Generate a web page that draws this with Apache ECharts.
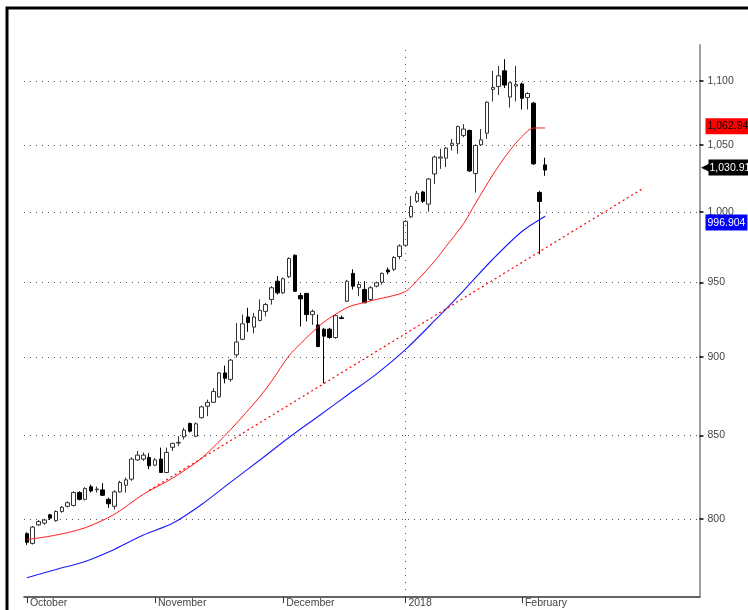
<!DOCTYPE html>
<html>
<head>
<meta charset="utf-8">
<script src="https://cdn.jsdelivr.net/npm/echarts@6/dist/echarts.min.js"></script>
<style>
  html, body { margin: 0; padding: 0; background: #fff; }
  #chart { width: 748px; height: 610px; }
</style>
</head>
<body>
<div id="chart"></div>
<script>
const font = "'Liberation Sans Narrow', 'Liberation Sans', Arial, sans-serif"
const fontSize = 10.5

// month boundaries (trading-day index) and their labels
const monthStarts = [0, 22, 44, 65, 85]
const monthLabels = ['October', 'November', 'December', '2018', 'February']
const slotCount = 116 // chart leaves empty room on the right

// daily candles: [open, close, low, high]
const candles = [
  [791.5, 786.6, 785.1, 792.3], [785.9, 795.3, 785.3, 796.0], [796.6, 798.5, 796.0, 799.4],
  [797.6, 799.4, 796.6, 800.2], [802.4, 800.5, 799.4, 803.0], [799.0, 804.4, 798.5, 805.0],
  [804.4, 806.8, 803.6, 807.6], [807.4, 809.5, 806.7, 810.3], [807.9, 815.5, 807.3, 816.3],
  [815.5, 811.5, 810.9, 816.3], [811.5, 817.9, 810.9, 818.7], [818.9, 816.5, 815.5, 820.3],
  [817.2, 817.6, 815.5, 819.1], [817.1, 813.9, 813.5, 821.1], [811.5, 808.9, 806.5, 812.5],
  [807.4, 815.9, 805.5, 816.9], [815.9, 821.5, 815.5, 822.5], [819.9, 823.1, 815.5, 824.5],
  [823.5, 835.6, 822.5, 836.6], [835.1, 838.0, 834.5, 840.5], [835.6, 838.0, 834.5, 839.6],
  [836.6, 831.5, 829.5, 839.2], [831.9, 835.1, 831.3, 836.2], [835.6, 827.5, 827.5, 842.6],
  [827.5, 839.6, 827.1, 842.6], [842.8, 845.2, 840.5, 845.6], [845.4, 845.8, 843.6, 849.6],
  [849.2, 853.3, 847.6, 854.8], [857.5, 852.7, 851.9, 858.1], [849.6, 857.3, 849.1, 858.1],
  [861.1, 867.9, 860.6, 868.8], [868.3, 870.8, 862.1, 872.5], [870.8, 877.7, 870.4, 879.8],
  [874.2, 889.6, 873.8, 890.2], [889.6, 886.1, 882.9, 894.4], [885.4, 897.9, 883.9, 898.6],
  [901.4, 909.8, 899.6, 922.4], [911.6, 921.9, 911.0, 928.1], [926.5, 922.8, 916.6, 932.7],
  [919.7, 926.5, 915.5, 929.2], [924.2, 931.0, 923.5, 938.4], [930.3, 934.9, 926.9, 936.1],
  [938.4, 946.4, 934.9, 947.5], [950.9, 942.9, 941.8, 954.5], [942.9, 952.6, 942.1, 953.5],
  [954.0, 966.7, 953.2, 967.6], [969.0, 944.0, 943.5, 969.7], [941.1, 938.8, 920.1, 942.9],
  [942.5, 928.1, 923.5, 942.9], [928.1, 930.3, 921.2, 931.5], [921.2, 906.8, 906.4, 928.1],
  [918.3, 913.7, 882.9, 919.2], [918.3, 912.8, 912.0, 919.2], [912.8, 927.4, 912.0, 928.1],
  [926.0, 925.5, 925.0, 927.4], [937.2, 950.9, 936.6, 951.8], [956.3, 947.5, 945.2, 959.2],
  [946.4, 948.6, 940.6, 950.9], [945.2, 936.1, 936.1, 950.9], [938.4, 946.4, 937.2, 947.5],
  [947.5, 949.8, 946.6, 950.7], [950.2, 956.3, 948.6, 957.0], [958.7, 957.3, 955.6, 960.4],
  [959.2, 967.4, 958.0, 968.5], [968.1, 975.6, 966.2, 976.8], [976.1, 993.2, 975.4, 994.0],
  [996.5, 1004.0, 995.6, 1011.6], [1007.8, 1013.6, 1006.6, 1015.4], [1014.6, 1007.8, 1006.6, 1015.5],
  [1005.7, 1024.2, 1000.2, 1025.0], [1028.0, 1040.7, 1020.5, 1041.7], [1039.9, 1040.7, 1031.8, 1047.0],
  [1039.9, 1047.5, 1033.1, 1048.3], [1049.6, 1051.1, 1045.7, 1054.5], [1050.8, 1064.0, 1043.2, 1064.8],
  [1057.2, 1062.1, 1055.8, 1065.9], [1061.0, 1030.3, 1029.5, 1061.7], [1028.3, 1049.5, 1014.2, 1050.3],
  [1050.0, 1053.8, 1049.2, 1062.1], [1058.9, 1083.0, 1054.5, 1083.7], [1093.2, 1094.7, 1083.6, 1108.0],
  [1095.5, 1104.0, 1088.6, 1112.0], [1108.0, 1096.6, 1094.3, 1117.4], [1087.1, 1098.5, 1078.8, 1099.2],
  [1095.8, 1097.0, 1083.6, 1112.0], [1097.5, 1086.1, 1077.3, 1098.5], [1086.7, 1089.9, 1077.3, 1090.9],
  [1082.3, 1035.6, 1034.8, 1083.3], [1014.2, 1007.6, 969.7, 1015.5], [1034.8, 1030.91, 1026.6, 1040.2]
]

// moving averages: [day index, value]
const maRed = [
  [0, 788.1], [5, 790.7], [10, 794.9], [15, 802.7], [20, 814.5], [25, 824.1], [30, 836.2],
  [35, 853.8], [40, 874.4], [42, 884.2], [45, 900.7], [47, 908.7], [50, 919.9], [52, 925.8],
  [55, 932.9], [57, 935.4], [60, 938.4], [62, 940.1], [65, 943.8], [67, 951.4], [70, 964.8],
  [72, 975.4], [75, 991.6], [77, 1006.1], [80, 1027.3], [82, 1040.2], [84, 1051.5],
  [86, 1060.6], [87, 1062.9], [89, 1062.94]
]
const maBlue = [
  [0, 766.5], [5, 771.2], [10, 775.7], [15, 782.5], [20, 790.7], [25, 797.5], [30, 808.5],
  [35, 821.7], [40, 835.0], [45, 848.8], [50, 861.9], [55, 875.3], [60, 888.8], [65, 904.8],
  [70, 924.0], [75, 944.5], [80, 966.2], [85, 985.9], [89, 996.904]
]
// support trendline end points
const trend = [[21, 816.8], [106, 1017.8]]

const yTicks = [800, 850, 900, 950, 1000, 1050, 1100]
const lastClose = 1030.91
const lastRed = 1062.94
const lastBlue = 996.904

const categories = []
for (let i = 0; i < slotCount; i++) categories.push(String(i))

const ln = Math.log
const toLn = arr => arr.map(([i, v]) => [i, ln(v)])

function priceTag(value, bg, fg) {
  return {
    symbol: 'none',
    silent: true,
    animation: false,
    lineStyle: { width: 0, color: 'transparent' },
    label: {
      position: 'end',
      distance: 6,
      formatter: value.toLocaleString('en-US'),
      backgroundColor: bg,
      color: fg,
      padding: [3, 2, 2, 2],
      fontSize: fontSize,
      fontFamily: font
    },
    data: [{ yAxis: ln(value) }]
  }
}

const chart = echarts.init(document.getElementById('chart'))
chart.setOption({
  animation: false,
  backgroundColor: '#fff',
  graphic: [
    {
      type: 'rect',
      shape: { x: 7, y: 8, width: 800, height: 700 },
      style: { fill: 'none', stroke: '#000', lineWidth: 3 },
      silent: true
    }
  ],
  grid: { left: 24, right: 48.5, top: 45, bottom: 13 },
  xAxis: {
    type: 'category',
    data: categories,
    boundaryGap: true,
    axisLine: { show: true, lineStyle: { color: '#333', width: 1.5 } },
    axisTick: {
      show: true,
      alignWithLabel: true,
      length: 6,
      interval: i => monthStarts.includes(i),
      lineStyle: { color: '#333' }
    },
    axisLabel: {
      interval: i => monthStarts.includes(i),
      formatter: (v, i) => monthLabels[monthStarts.indexOf(i)] || '',
      align: 'left',
      margin: 1,
      padding: [0, 0, 0, 3],
      color: '#444',
      fontSize: fontSize,
      fontFamily: font
    },
    splitLine: { show: false }
  },
  yAxis: {
    type: 'value',
    position: 'right',
    min: ln(755.9),
    max: ln(1129),
    axisLine: { show: true, lineStyle: { color: '#a0a0a0', width: 2 } },
    axisTick: {
      show: true,
      length: 4,
      customValues: yTicks.map(ln),
      lineStyle: { color: '#000', width: 1.5 }
    },
    axisLabel: {
      customValues: yTicks.map(ln),
      formatter: v => Math.round(Math.exp(v)).toLocaleString('en-US'),
      color: '#444',
      fontSize: fontSize,
      margin: 8,
      fontFamily: font
    },
    splitLine: { show: true, lineStyle: { color: '#555', type: [1, 5], width: 1 } }
  },
  series: [
    {
      type: 'candlestick',
      data: candles.map(c => c.map(ln)),
      barWidth: 4,
      itemStyle: {
        color: '#fff',
        color0: '#000',
        borderColor: '#333',
        borderColor0: '#000',
        borderWidth: 1
      },
      markLine: {
        symbol: 'none',
        silent: true,
        animation: false,
        data: [
          {
            xAxis: monthStarts[3],
            lineStyle: { color: '#555', type: [1, 6], width: 1 },
            label: { show: false }
          },
          {
            yAxis: ln(lastClose),
            lineStyle: { width: 0, color: 'transparent' },
            label: {
              position: 'end',
              distance: 1,
              formatter: '{tri|◀}{box|' + lastClose.toLocaleString('en-US') + '}',
              rich: {
                tri: { color: '#000', fontSize: 13, padding: [0, -2, 0, 0] },
                box: {
                  backgroundColor: '#000',
                  color: '#fff',
                  padding: [3, 2, 2, 1],
                  fontSize: fontSize,
                  fontFamily: font
                }
              }
            }
          }
        ]
      },
      z: 2
    },
    {
      type: 'line',
      data: toLn(maRed),
      showSymbol: false,
      smooth: 0.3,
      lineStyle: { color: '#ff1a1a', width: 1 },
      markLine: priceTag(lastRed, '#ff0000', '#000'),
      z: 3
    },
    {
      type: 'line',
      data: toLn(maBlue),
      showSymbol: false,
      smooth: 0.3,
      lineStyle: { color: '#1a1aff', width: 1.1 },
      markLine: priceTag(lastBlue, '#0000ff', '#fff'),
      z: 3
    },
    {
      type: 'line',
      data: toLn(trend),
      showSymbol: false,
      lineStyle: { color: '#ff0000', width: 1.2, type: [2, 3] },
      z: 3
    }
  ]
})
</script>
</body>
</html>
